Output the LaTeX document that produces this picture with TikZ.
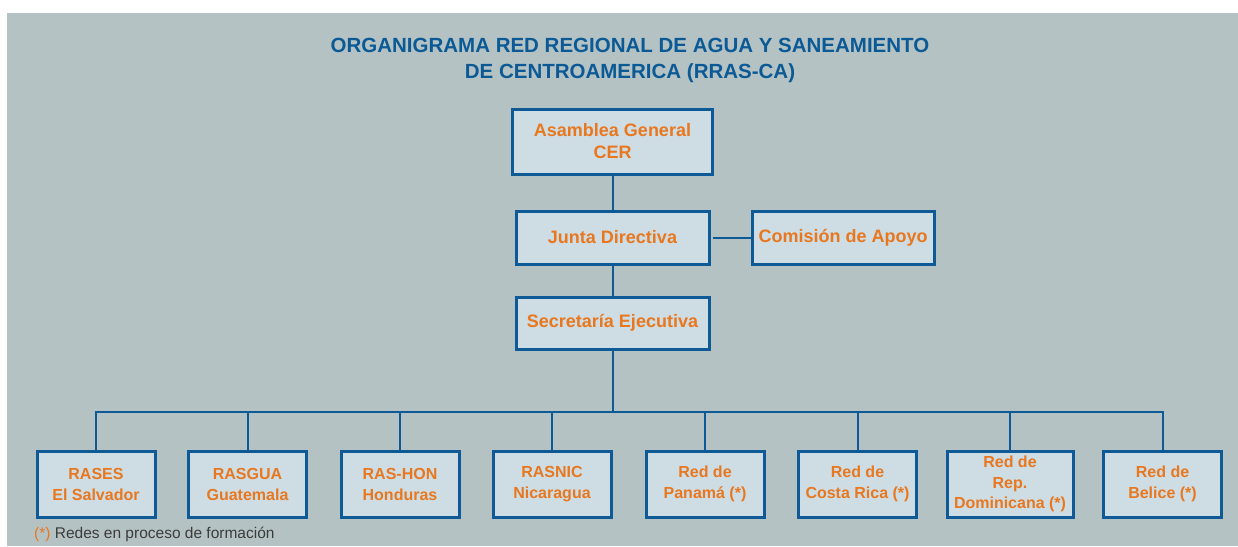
\documentclass[tikz,border=0pt]{standalone}
\usepackage{fontspec}
\setmainfont{Liberation Sans}
\definecolor{bggray}{HTML}{B4C2C3}
\definecolor{boxfill}{HTML}{CDDDE3}
\definecolor{boxline}{HTML}{0D5A96}
\definecolor{orangetxt}{HTML}{E8771F}
\definecolor{titleblue}{HTML}{0B5A96}
\definecolor{notegray}{HTML}{3C3C3C}
\tikzset{
  orgbox/.style={draw=boxline, line width=3pt, fill=boxfill, rectangle, inner sep=0pt,
    text=orangetxt, font=\bfseries, align=center},
  topbox/.style={orgbox, font=\fontsize{18}{22}\selectfont\bfseries},
  netbox/.style={orgbox, minimum width=118pt, minimum height=66pt, font=\fontsize{16}{21}\selectfont\bfseries},
  link/.style={draw=boxline, line width=2pt}
}
\begin{document}
\begin{tikzpicture}[x=1pt,y=-1pt]
\useasboundingbox (0,0) rectangle (1238,546);
\fill[bggray] (7,13) rectangle (1238,546);
\node[text=titleblue, font=\fontsize{20.5}{26}\selectfont\bfseries, align=center] (title) at (630,60)
  {ORGANIGRAMA RED REGIONAL DE AGUA Y SANEAMIENTO\\DE CENTROAMERICA (RRAS-CA)};
\node[topbox, minimum width=200pt, minimum height=65pt] (ag) at (612.5,141.5) {Asamblea General\\CER};
\node[topbox, minimum width=193pt, minimum height=53pt] (jd) at (612.5,237.5) {Junta Directiva};
\node[topbox, minimum width=182pt, minimum height=53pt] (ca) at (843,237.5) {Comisión de Apoyo};
\node[topbox, minimum width=193pt, minimum height=52pt] (se) at (612.5,323) {Secretaría Ejecutiva};
\node[netbox] (r1) at (96,484) {RASES\\El Salvador};
\node[netbox] (r2) at (247.5,484) {RASGUA\\Guatemala};
\node[netbox] (r3) at (400,484) {RAS-HON\\Honduras};
\node[netbox] (r4) at (552,484) {RASNIC\\Nicaragua};
\node[netbox] (r5) at (705,484) {Red de\\Panamá (*)};
\node[netbox] (r6) at (857.5,484) {Red de\\Costa Rica (*)};
\node[netbox, minimum width=126pt, font=\fontsize{16}{20.5}\selectfont\bfseries] (r7) at (1010,484) {Red de\\Rep.\\Dominicana (*)};
\node[netbox] (r8) at (1162.5,484) {Red de\\Belice (*)};
\node[anchor=west, inner sep=0pt, font=\fontsize{15.5}{18}\selectfont, text=notegray] (note) at (34,534)
  {\textcolor{orangetxt}{(*)} Redes en proceso de formación};
\coordinate (busY) at (0,412);
\draw[link] (ag.south) -- (jd.north);
\draw[link, shorten <=2pt] (jd.east) -- (ca.west);
\draw[link] (jd.south) -- (se.north);
\draw[link] (se.south) -- (se.south |- busY);
\draw[link] (r1.north) -- (r1.north |- busY) -- (r8.north |- busY) -- (r8.north);
\foreach \b in {r2,r3,r4,r5,r6,r7} {
  \draw[link] (\b.north |- busY) -- (\b.north);
}
\end{tikzpicture}
\end{document}
